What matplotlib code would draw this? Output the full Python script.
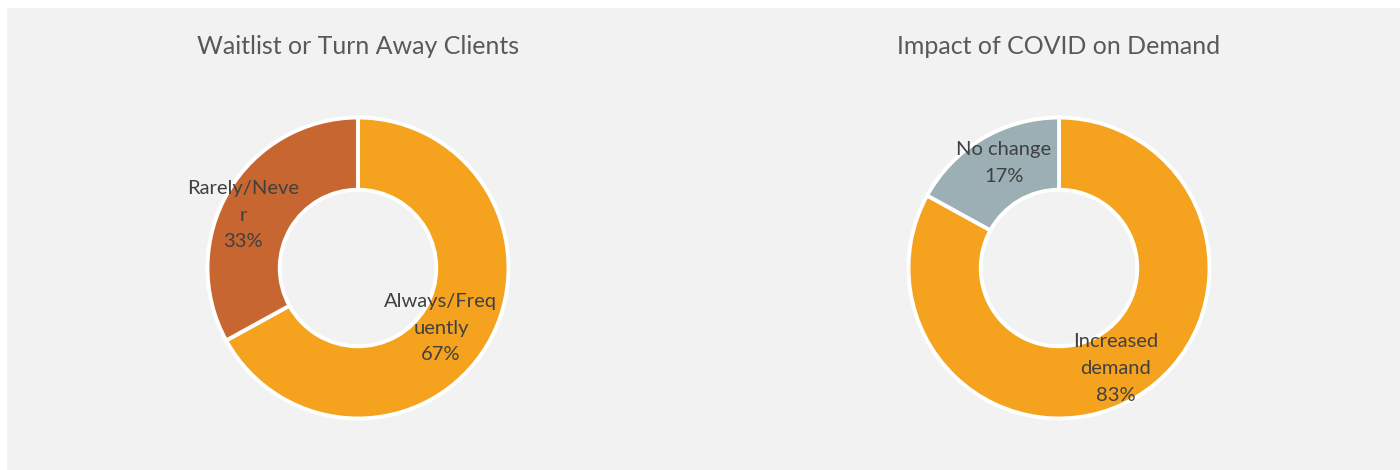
import numpy as np
import matplotlib.pyplot as plt
from matplotlib.patches import Rectangle

# Survey results
waitlist_labels = ["Always/Freq\nuently", "Rarely/Neve\nr"]
waitlist_values = [67, 33]
waitlist_colors = ["#F5A31F", "#C86631"]

covid_labels = ["Increased\ndemand", "No change"]
covid_values = [83, 17]
covid_colors = ["#F5A31F", "#9CAFB4"]

titles = ["Waitlist or Turn Away Clients", "Impact of COVID on Demand"]

W, H = 1400, 470
fig = plt.figure(figsize=(W / 100, H / 100), dpi=100, facecolor="white")
fig.patches.append(Rectangle((7 / W, 0), 1 - 7 / W, 1 - 8 / H,
                             transform=fig.transFigure, facecolor="#F2F2F2",
                             edgecolor="none", zorder=-10))

FONT = ["Lato", "DejaVu Sans"]
TEXT_COLOR = "#404040"
TITLE_COLOR = "#595959"
R_PX = 152


def donut(cx, cy, values, labels, colors, title, label_pos):
    ax = fig.add_axes([(cx - R_PX) / W, (H - cy - R_PX) / H, 2 * R_PX / W, 2 * R_PX / H])
    ax.set_facecolor("none")
    wedges, _ = ax.pie(values, colors=colors, startangle=90, counterclock=False,
                       radius=1.0,
                       wedgeprops=dict(width=0.48, edgecolor="white", linewidth=2.8))
    ax.set_xlim(-1.01, 1.01)
    ax.set_ylim(-1.01, 1.01)
    ax.set_aspect("equal")
    ax.axis("off")
    # each label sits near its wedge's bisector: (radius, angular nudge in degrees)
    for w, lab, v, (r, dth) in zip(wedges, labels, values, label_pos):
        mid = np.deg2rad((w.theta1 + w.theta2) / 2 + dth)
        ax.text(r * np.cos(mid), r * np.sin(mid), f"{lab}\n{v}%",
                ha="center", va="center", fontsize=14.5, color=TEXT_COLOR,
                family=FONT, linespacing=1.7)
    fig.text(cx / W, 1 - 46 / H, title, ha="center", va="center",
             fontsize=18, color=TITLE_COLOR, family=FONT)


donut(358, 268, waitlist_values, waitlist_labels, waitlist_colors, titles[0],
      [(0.68, -5.3), (0.84, 5.9)])
donut(1059, 268, covid_values, covid_labels, covid_colors, titles[1],
      [(0.765, -1.3), (0.79, -3.0)])

fig.savefig("out.png", dpi=100, facecolor=fig.get_facecolor())
